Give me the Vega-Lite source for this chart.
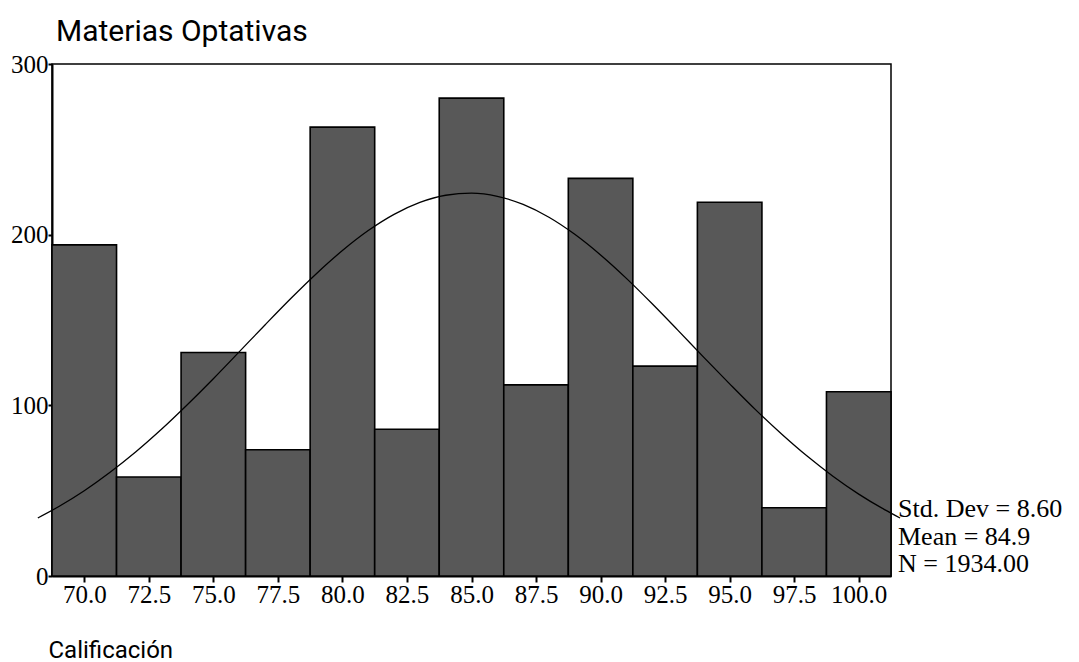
{
  "$schema": "https://vega.github.io/schema/vega-lite/v6.json",
  "autosize": "none",
  "width": 839,
  "height": 512,
  "padding": {"left": 52, "top": 64, "right": 188, "bottom": 86},
  "background": "white",
  "title": {
    "text": "Materias Optativas",
    "anchor": "start",
    "frame": "group",
    "dx": 4,
    "offset": -19,
    "baseline": "alphabetic",
    "font": "Roboto",
    "fontSize": 30,
    "fontWeight": "normal",
    "color": "black"
  },
  "config": {
    "view": {"stroke": "black", "strokeWidth": 1.5},
    "axis": {
      "domainColor": "black",
      "domainWidth": 2,
      "tickColor": "black",
      "tickWidth": 2,
      "grid": false,
      "labelFont": "Liberation Serif",
      "labelColor": "black",
      "labelFontSize": 25
    }
  },
  "datasets": {
    "hist": [
      {"bin_start": 68.75, "bin_end": 71.25, "count": 194},
      {"bin_start": 71.25, "bin_end": 73.75, "count": 58},
      {"bin_start": 73.75, "bin_end": 76.25, "count": 131},
      {"bin_start": 76.25, "bin_end": 78.75, "count": 74},
      {"bin_start": 78.75, "bin_end": 81.25, "count": 263},
      {"bin_start": 81.25, "bin_end": 83.75, "count": 86},
      {"bin_start": 83.75, "bin_end": 86.25, "count": 280},
      {"bin_start": 86.25, "bin_end": 88.75, "count": 112},
      {"bin_start": 88.75, "bin_end": 91.25, "count": 233},
      {"bin_start": 91.25, "bin_end": 93.75, "count": 123},
      {"bin_start": 93.75, "bin_end": 96.25, "count": 219},
      {"bin_start": 96.25, "bin_end": 98.75, "count": 40},
      {"bin_start": 98.75, "bin_end": 101.25, "count": 108}
    ],
    "curve": [
      {"grade": 68.2, "density": 34.0},
      {"grade": 69, "density": 40.6},
      {"grade": 70, "density": 50.0},
      {"grade": 71, "density": 60.8},
      {"grade": 72, "density": 72.8},
      {"grade": 73, "density": 86.1},
      {"grade": 74, "density": 100.5},
      {"grade": 75, "density": 115.6},
      {"grade": 76, "density": 131.3},
      {"grade": 77, "density": 147.1},
      {"grade": 78, "density": 162.6},
      {"grade": 79, "density": 177.3},
      {"grade": 80, "density": 190.7},
      {"grade": 81, "density": 202.4},
      {"grade": 82, "density": 211.9},
      {"grade": 83, "density": 218.9},
      {"grade": 84, "density": 223.1},
      {"grade": 85, "density": 224.3},
      {"grade": 86, "density": 222.5},
      {"grade": 87, "density": 217.7},
      {"grade": 88, "density": 210.2},
      {"grade": 89, "density": 200.2},
      {"grade": 90, "density": 188.1},
      {"grade": 91, "density": 174.4},
      {"grade": 92, "density": 159.5},
      {"grade": 93, "density": 143.9},
      {"grade": 94, "density": 128.1},
      {"grade": 95, "density": 112.6},
      {"grade": 96, "density": 97.5},
      {"grade": 97, "density": 83.4},
      {"grade": 98, "density": 70.3},
      {"grade": 99, "density": 58.5},
      {"grade": 100, "density": 48.0},
      {"grade": 101, "density": 38.9},
      {"grade": 101.6, "density": 34.0}
    ],
    "stats": [
      {"label": "Std. Dev = 8.60"},
      {"label": "Mean = 84.9"},
      {"label": "N = 1934.00"}
    ]
  },
  "layer": [
    {
      "layer": [
        {
          "data": {"name": "hist"},
          "mark": {"type": "bar", "fill": "#585858", "stroke": "black", "strokeWidth": 1.6},
          "encoding": {
            "x": {
              "field": "bin_start",
              "type": "quantitative",
              "scale": {"domain": [68.75, 101.25], "nice": false, "zero": false},
              "axis": {
                "values": [70, 72.5, 75, 77.5, 80, 82.5, 85, 87.5, 90, 92.5, 95, 97.5, 100],
                "format": ".1f",
                "tickSize": 6,
                "labelPadding": 0,
                "title": "Calificación",
                "titleFont": "Roboto",
                "titleFontSize": 24,
                "titleFontWeight": "normal",
                "titleColor": "black",
                "titleAnchor": "start",
                "titleAlign": "left",
                "titleBaseline": "alphabetic",
                "titleX": -4,
                "titleY": 81
              }
            },
            "x2": {"field": "bin_end"},
            "y": {
              "field": "count",
              "type": "quantitative",
              "scale": {"domain": [0, 300], "nice": false},
              "axis": {
                "values": [0, 100, 200, 300],
                "tickSize": 4,
                "labelPadding": 0,
                "labelFontSize": 25,
                "title": null
              }
            },
            "y2": {"datum": 0}
          }
        },
        {
          "data": {"name": "curve"},
          "mark": {"type": "line", "color": "black", "strokeWidth": 1.3, "interpolate": "monotone", "clip": false},
          "encoding": {
            "x": {"field": "grade", "type": "quantitative"},
            "y": {"field": "density", "type": "quantitative"}
          }
        }
      ]
    },
    {
      "data": {"name": "stats"},
      "mark": {
        "type": "text",
        "align": "left",
        "baseline": "alphabetic",
        "dx": 7,
        "font": "Liberation Serif",
        "fontSize": 26,
        "color": "black"
      },
      "encoding": {
        "x": {"datum": 101.25},
        "y": {
          "field": "label",
          "type": "nominal",
          "sort": null,
          "scale": {"type": "point", "range": [453, 508], "padding": 0},
          "axis": null
        },
        "text": {"field": "label"}
      }
    }
  ],
  "resolve": {"scale": {"y": "independent"}}
}
